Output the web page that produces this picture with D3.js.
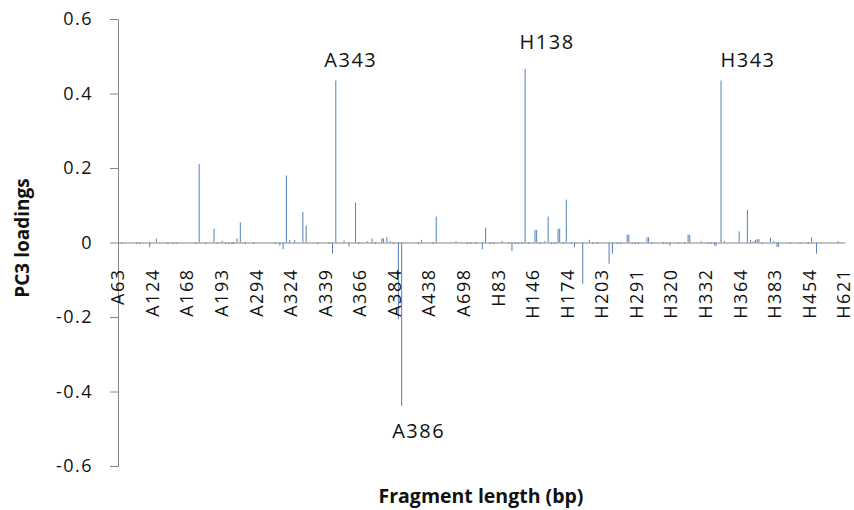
<!DOCTYPE html>
<html>
<head>
<meta charset="utf-8">
<script src="https://cdn.jsdelivr.net/npm/d3@7"></script>
<style>
  body { margin: 0; background: #fff; }
  svg { display: block; font-family: "Open Sans", sans-serif; }
</style>
</head>
<body>
<svg width="854" height="510"></svg>
<script>
// PC3 loadings, one value per fragment (rows of 21 = one labelled step each)
const loadings = [
  0,0,-0.004,0,0,0,0,0,0,0,0,-0.004,0,-0.004,0,0,0,0,0,-0.013,0,
  0,0,0.011,0,0,0,0,0,0,-0.004,0,0,-0.004,0,-0.004,0,0,0,0,0,0,
  0,0,0,0,0,-0.004,0,0.211,0,0,0,-0.004,0,0,0,0,0.037,0,-0.004,0,0,
  0.005,0,-0.004,0,-0.004,0,-0.004,-0.004,0,0.011,0,0.054,0,0,-0.004,0,0,0,0,-0.004,0,
  0,0,0,0,0,0,0,0,0,0,0,-0.004,0,0,-0.008,0,-0.018,0,0.180,0,0.007,
  0,0,0.007,0,0,0,0,0.082,0,0.046,0,0,0,0,0,0,-0.004,0,0,0,0,
  0,0,-0.004,0,-0.030,0,0.435,0,0,0,0,0.005,0,0,-0.011,0,0,0,0.107,0,-0.004,
  0,0,0,0,0.004,0,0,0.011,0,-0.004,0,0,0,0.011,0.011,0,0.014,0,0.004,0,-0.004,
  0,0,-0.206,0,-0.439,0,0,0,0,0,0,0,0,0,-0.004,0,0.007,0,0,0,0,
  0,0,-0.004,0,0.070,0,0,0,0,0,0,0,0,0,0,0,0.004,0,0,0,0,
  0,0,-0.004,0,-0.004,0,0,-0.004,0,0,0,-0.018,0,0.040,0,0,-0.004,0,-0.004,0,0,
  0,0,0.004,0,0,0,-0.004,0,-0.023,0,-0.004,0,-0.004,0,-0.004,0,0.466,0,-0.004,0,0,
  0,0.034,0.034,0,-0.004,0,0,0.004,0,0.070,0,-0.004,0,-0.004,0,0.037,0.037,0,-0.004,0,0.115,
  0,0,-0.004,0,-0.012,0,0,0,0,-0.111,0,0,0,0.007,0,-0.004,0,0,-0.004,0,0,
  0,0,0,0,-0.057,0,-0.030,0,0,-0.004,0,-0.004,0,0,0,0.021,0.021,0,-0.004,0,-0.004,
  0,-0.004,0,0,0,0,0.014,0.014,0,-0.004,0,0,0,0,0,0,-0.004,0,-0.004,0,-0.008,
  0,0,0,0,-0.004,0,0,0,-0.004,0,0.021,0.021,0,0,0,0,0,0,0.004,0,0,
  0,-0.004,0,-0.004,0,-0.008,-0.010,0,0,0.435,0,0.004,0,0,0,0,0,0,0,0,0.030,
  0,0,0,0,0.088,0,0.007,0,0.004,0.007,0.009,0.009,0,-0.004,0,0,0,0,0.013,0,0.004,
  0,-0.012,-0.012,0,0,0,0,0,0,-0.004,0,0,0,0,0,-0.004,0,0,0,0,-0.004,
  0,0.014,0,0,-0.030,0,0,0,0,0,0,0,0,0,0,0,0,0.004,0,0,0,
  0
];

// category labels shown on the axis (every 21st fragment)
const tickLabels = ["A63","A124","A168","A193","A294","A324","A339","A366","A384","A438","A698",
                    "H83","H146","H174","H203","H291","H320","H332","H364","H383","H454","H621"];

const yTicks = [-0.6, -0.4, -0.2, 0, 0.2, 0.4, 0.6];

// labelled peaks
const peakNames = ["A343", "H138", "H343", "A386"];
const peakIndex = [132, 247, 366, 172];

const labelStep = 21;

var svg = d3.select("svg"),
    plotLeft = 118, plotRight = 845, plotTop = 19, plotBottom = 466;

var x = d3.scaleBand().domain(d3.range(loadings.length)).range([plotLeft, plotRight]).paddingInner(0.4),
    y = d3.scaleLinear().domain([-0.6, 0.6]).range([plotBottom, plotTop]);

var axisColor = "#868686";

// y axis (plain hyphen for the minus, as in the original)
var ya = svg.append("g")
    .attr("transform", "translate(" + plotLeft + ",0)")
    .call(d3.axisLeft(y).tickValues(yTicks).tickSize(8).tickPadding(17)
        .tickFormat(function(d) { return d === 0 ? "0" : d.toFixed(1); }));
ya.select(".domain").attr("stroke", axisColor);
ya.selectAll(".tick line").attr("stroke", axisColor);
ya.selectAll(".tick text")
    .attr("fill", "#111")
    .attr("font-size", "18px")
    .attr("letter-spacing", "1.5px")
    .attr("font-family", "Open Sans");

// bars
svg.append("g").selectAll("rect")
    .data(loadings)
    .enter().append("rect")
    .attr("x", function(d, i) { return x(i); })
    .attr("y", function(d) { return y(Math.max(0, d)); })
    .attr("width", x.bandwidth())
    .attr("height", function(d) { return Math.abs(y(d) - y(0)); })
    .attr("fill", "#4F81BD");

// category axis along zero
var xa = svg.append("g")
    .attr("transform", "translate(0," + y(0) + ")")
    .call(d3.axisBottom(x).tickSize(0)
        .tickValues(d3.range(0, loadings.length, labelStep))
        .tickFormat(function(d) { return tickLabels[d / labelStep]; }));
xa.select(".domain").attr("stroke", axisColor);
xa.selectAll(".tick text")
    .attr("fill", "#111")
    .attr("font-size", "18px")
    .attr("letter-spacing", "1.5px")
    .attr("font-family", "Open Sans")
    .attr("text-anchor", "end")
    .attr("transform", "translate(0,26) rotate(-90)")
    .attr("x", 0).attr("y", 0).attr("dy", "0.32em");

// peak annotations
var peakDx = [15, 22, 27, 17],
    peakDy = [-13, -20, -13, 32];
svg.append("g").selectAll("text")
    .data(peakNames)
    .enter().append("text")
    .attr("x", function(d, i) { return x(peakIndex[i]) + x.bandwidth() / 2 + peakDx[i]; })
    .attr("y", function(d, i) { return y(loadings[peakIndex[i]]) + peakDy[i]; })
    .attr("text-anchor", "middle")
    .attr("font-size", "20px")
    .attr("letter-spacing", "1.5px")
    .attr("fill", "#111")
    .text(function(d) { return d; });

// axis titles
svg.append("text")
    .attr("transform", "translate(29,238) rotate(-90)")
    .attr("text-anchor", "middle")
    .attr("font-weight", "bold")
    .attr("font-size", "19px")
    .attr("fill", "#111")
    .text("PC3 loadings");

svg.append("text")
    .attr("x", 481)
    .attr("y", 503)
    .attr("text-anchor", "middle")
    .attr("font-weight", "bold")
    .attr("font-size", "19.5px")
    .attr("fill", "#111")
    .text("Fragment length (bp)");
</script>
</body>
</html>
